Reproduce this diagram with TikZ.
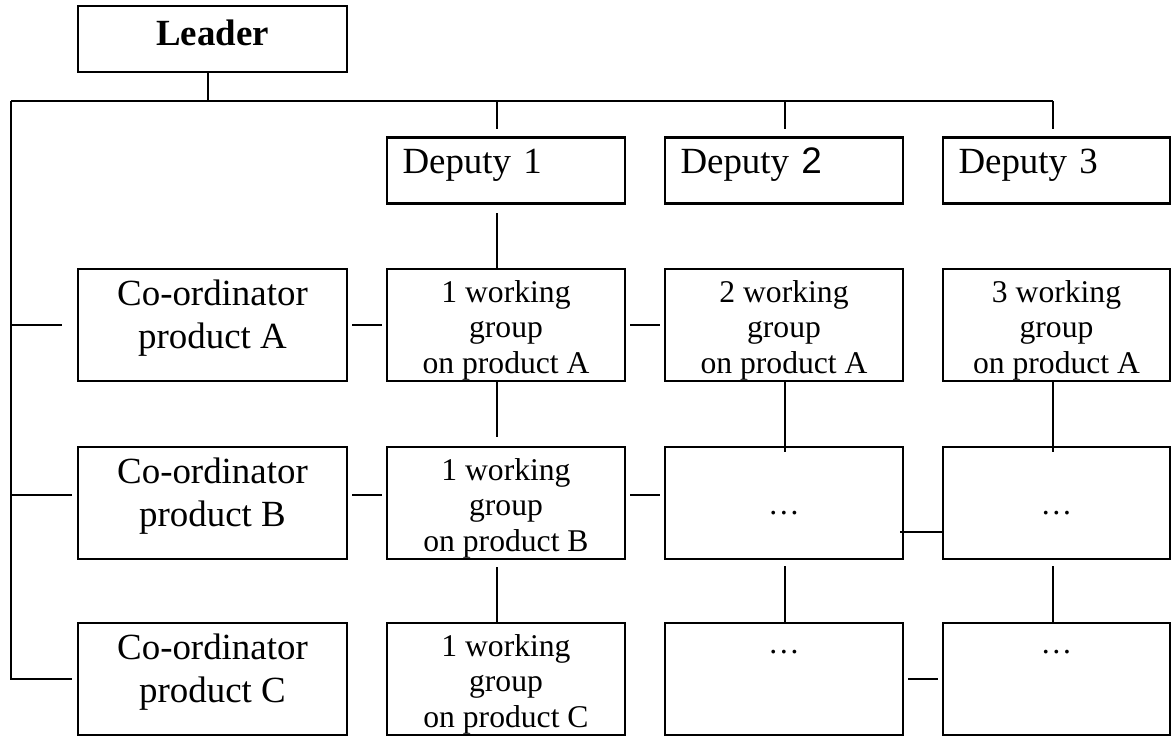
\documentclass[tikz,border=0pt]{standalone}
\usepackage{fontspec}
\setmainfont{Liberation Serif}
\setsansfont{Liberation Sans}
\usepackage{tikz}

\newcommand{\lowpad}{\rule[-0.44cm]{0pt}{0.44cm}}
\newcommand{\highpad}{\rule{0pt}{0.64cm}}

\tikzset{
    box/.style={draw, line width=1.3pt, inner sep=0pt, align=center},
    lead/.style={box, text width=5.38cm, text height=0.78cm, text depth=0.54cm, font=\fontsize{21}{25}\selectfont\bfseries},
    deputy/.style={box, inner xsep=0.31cm, text width=#1, text height=0.71cm, text depth=0.61cm, align=left, font=\fontsize{21}{25}\selectfont},
    coord/.style={box, minimum width=5.38cm, minimum height=2.24cm, font=\fontsize{21}{24.7}\selectfont},
    group/.style={box, minimum width=#1, minimum height=2.24cm, font=\fontsize{18}{20.2}\selectfont},
    link/.style={line width=1pt},
    gap/.style={shorten <=0.08cm, shorten >=0.08cm}
}

\begin{document}
\begin{tikzpicture}

    \useasboundingbox (0,0) rectangle (23.42,-14.72);

    \node[lead] (lead) at (4.25,-0.78) {Leader};

    \node[deputy=4.14cm] (dep1) at (10.12,-3.41) {Deputy 1};
    \node[deputy=4.14cm] (dep2) at (15.68,-3.41) {Deputy {\sffamily 2}};
    \node[deputy=3.92cm] (dep3) at (21.13,-3.41) {Deputy 3};

    \node[coord] (coa) at (4.25,-6.50) {Co-ordinator\\product A\lowpad};
    \node[coord] (cob) at (4.25,-10.06) {Co-ordinator\\product B\lowpad};
    \node[coord] (coc) at (4.25,-13.58) {Co-ordinator\\product C\lowpad};

    \node[group=4.76cm] (wga1) at (10.12,-6.50) {\highpad 1 working\\group\\on product A};
    \node[group=4.76cm] (wga2) at (15.68,-6.50) {\highpad 2 working\\group\\on product A};
    \node[group=4.54cm] (wga3) at (21.13,-6.50) {\highpad 3 working\\group\\on product A};

    \node[group=4.76cm] (wgb1) at (10.12,-10.06) {\highpad 1 working\\group\\on product B};
    \node[group=4.76cm] (wgb2) at (15.68,-10.06) {\rule{0pt}{0.45cm}…};
    \node[group=4.54cm] (wgb3) at (21.13,-10.06) {\rule{0pt}{0.45cm}…};

    \node[group=4.76cm] (wgc1) at (10.12,-13.58) {\highpad 1 working\\group\\on product C};
    \node[group=4.76cm] (wgc2) at (15.68,-13.58) {\rule[-39pt]{0pt}{49pt}…};
    \node[group=4.54cm] (wgc3) at (21.13,-13.58) {\rule[-39pt]{0pt}{49pt}…};

    % top bus
    \coordinate (hub) at (4.16,-2.02);
    \coordinate (bus) at (0.22,-2.02);
    \coordinate (c1) at (9.94,-2.02);
    \coordinate (c2) at (15.70,-2.02);
    \coordinate (c3) at (21.06,-2.02);

    \draw[link] (hub |- lead.south) -- (hub);
    \draw[link] (bus) -- (c3);
    \foreach \i in {1,2,3}
        \draw[link, shorten >=0.15cm] (c\i) -- (c\i |- dep\i.north);

    % left side
    \draw[link, shorten >=0.1cm] (bus) -- (bus |- coc) -- (coc.west);
    \draw[link, shorten >=0.3cm] (bus |- coa) -- (coa.west);
    \draw[link, shorten >=0.1cm] ([yshift=0.16cm]cob.west -| bus) -- ([yshift=0.16cm]cob.west);

    % columns
    \draw[link, shorten <=0.17cm] (c1 |- dep1.south) -- (c1 |- wga1.north);
    \draw[link, shorten >=0.18cm] (c1 |- wga1.south) -- (c1 |- wgb1.north);
    \draw[link, shorten <=0.14cm] (c1 |- wgb1.south) -- (c1 |- wgc1.north);
    \foreach \i in {2,3} {
        \draw[link, shorten >=-0.12cm] (c\i |- wga\i.south) -- (c\i |- wgb\i.north);
        \draw[link, shorten <=0.12cm] (c\i |- wgb\i.south) -- (c\i |- wgc\i.north);
    }

    % rows
    \draw[link, gap] (coa) -- (wga1);
    \draw[link, gap] (wga1) -- (wga2);
    \draw[link, gap] ([yshift=0.16cm]cob.east) -- ([yshift=0.16cm]wgb1.west);
    \draw[link, gap] ([yshift=0.16cm]wgb1.east) -- ([yshift=0.16cm]wgb2.west);
    \draw[link, shorten <=-0.08cm] ([yshift=-0.58cm]wgb2.east) -- ([yshift=-0.58cm]wgb3.west);
    \draw[link, gap] (wgc2) -- (wgc3);

\end{tikzpicture}
\end{document}
